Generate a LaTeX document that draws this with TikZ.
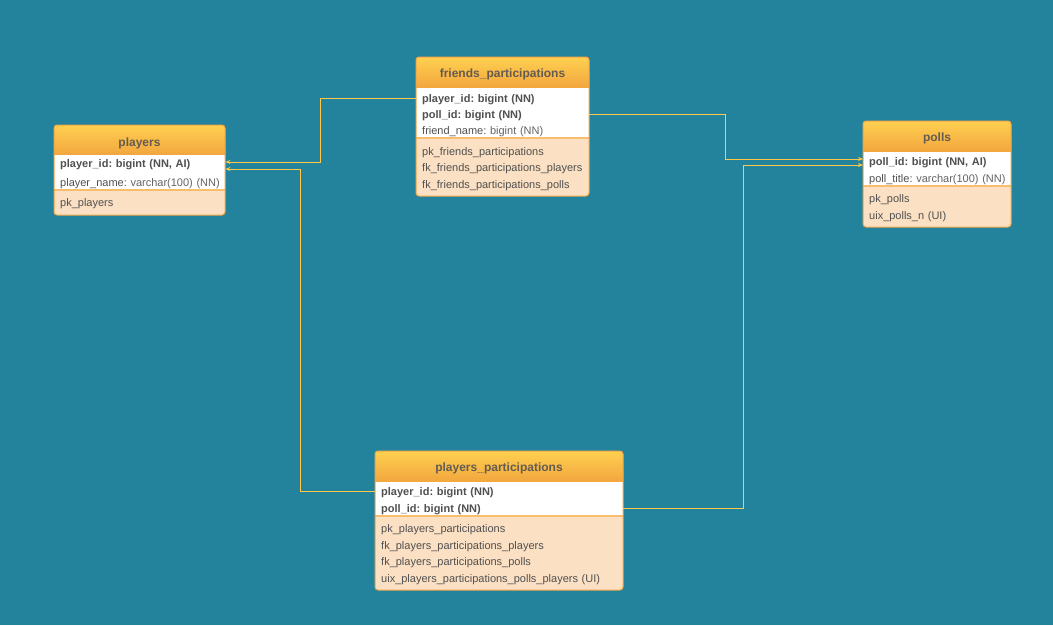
\documentclass[tikz,border=0pt]{standalone}
\usepackage{fontspec}
\setmainfont{Liberation Sans}
\usetikzlibrary{arrows.meta,positioning}
\frenchspacing

\definecolor{bg}{RGB}{35,130,156}
\definecolor{hdtop}{RGB}{255,208,80}
\definecolor{hdbot}{RGB}{240,160,60}
\definecolor{frame}{RGB}{240,165,70}
\definecolor{peach}{RGB}{251,224,195}
\definecolor{sep}{RGB}{248,190,110}
\definecolor{txt}{RGB}{80,80,80}
\definecolor{txtlt}{RGB}{100,100,100}
\definecolor{ttl}{RGB}{100,92,80}
\definecolor{link}{RGB}{255,200,70}

\begin{document}
\begin{tikzpicture}[x=1pt,y=-1pt,
  attr/.style={anchor=west,inner xsep=6pt,inner ysep=1pt,align=left,text=txt,font=\fontsize{11}{13}\selectfont},
  title/.style={font=\bfseries\fontsize{12}{14}\selectfont,text=ttl},
  fk/.style={draw=link,line width=0.8pt,-{Stealth[length=5pt,width=4pt]}}]

\fill[bg] (0,0) rectangle (1053,625);
\useasboundingbox (0,0) rectangle (1053,625);

% table frames: left/top/right/header/separator/bottom
\foreach \xa/\ya/\xb/\yh/\ys/\yb in {54/125/225/155/190/215, 416/57/589/88/138/196, 863/121/1011/152/186/227, 375/451/623/482/516/590}{
  \fill[peach,rounded corners=3pt] (\xa,\ya) rectangle (\xb,\yb);
  \shade[top color=hdtop,bottom color=hdbot,rounded corners=3pt] (\xa,\ya) rectangle (\xb,\yh+4);
  \fill[white] (\xa,\yh) rectangle (\xb,\ys);
  \draw[sep,line width=1.5pt] (\xa,\ys) -- (\xb,\ys);
  \draw[frame,line width=1pt,rounded corners=3pt] (\xa,\ya) rectangle (\xb,\yb);
}

% players
\node[title] (pl) at (139.5,143) {players};
\node[attr,text width=159pt] (pl-id) at (54,165) {\bfseries player\_id: bigint (NN, AI)};
\node[attr,text width=159pt] (pl-name) at (54,184) {\mbox{player\_name: \textcolor{txtlt}{varchar(100) (NN)}}};
\node[attr,text width=159pt] (pl-pk) at (54,204) {pk\_players};

% friends_participations
\node[title] (fp) at (502.5,74) {friends\_participations};
\node[attr,text width=161pt] (fp-pid) at (416,100) {\bfseries player\_id: bigint (NN)};
\node[attr,text width=161pt] (fp-poid) at (416,116) {\bfseries poll\_id: bigint (NN)};
\node[attr,text width=161pt] (fp-name) at (416,132) {friend\_name: \textcolor{txtlt}{bigint (NN)}};
\node[attr,text width=161pt] (fp-pk) at (416,153) {pk\_friends\_participations};
\node[attr,text width=161pt] (fp-fk1) at (416,169) {\mbox{fk\_friends\_participations\_players}};
\node[attr,text width=161pt] (fp-fk2) at (416,186) {fk\_friends\_participations\_polls};

% polls
\node[title] (po) at (937,138) {polls};
\node[attr,text width=136pt] (po-id) at (863,163) {\bfseries poll\_id: bigint (NN, AI)};
\node[attr,text width=136pt] (po-title) at (863,180) {\mbox{poll\_title: \textcolor{txtlt}{varchar(100) (NN)}}};
\node[attr,text width=136pt] (po-pk) at (863,200) {pk\_polls};
\node[attr,text width=136pt] (po-uix) at (863,217) {uix\_polls\_n (UI)};

% players_participations
\node[title] (pp) at (499,468) {players\_participations};
\node[attr,text width=236pt] (pp-pid) at (375,493) {\bfseries player\_id: bigint (NN)};
\node[attr,text width=236pt] (pp-poid) at (375,510) {\bfseries poll\_id: bigint (NN)};
\node[attr,text width=236pt] (pp-pk) at (375,530) {pk\_players\_participations};
\node[attr,text width=236pt] (pp-fk1) at (375,547) {fk\_players\_participations\_players};
\node[attr,text width=236pt] (pp-fk2) at (375,563) {fk\_players\_participations\_polls};
\node[attr,text width=236pt] (pp-uix) at (375,580) {\mbox{uix\_players\_participations\_polls\_players (UI)}};

% references
\draw[fk] ([yshift=2pt]fp-pid.west) -- ++(-96,0) |- ([yshift=3pt]pl-id.east);
\draw[fk] ([yshift=2pt]pp-pid.west) -- ++(-75,0) |- ([yshift=-4pt]pl-id.east);
\draw[fk] ([yshift=2pt]fp-poid.east) -- ++(136,0) |- ([yshift=4pt]po-id.west);
\draw[fk] ([yshift=2pt]pp-poid.east) -- ++(120,0) |- ([yshift=-2pt]po-id.west);

\end{tikzpicture}
\end{document}
